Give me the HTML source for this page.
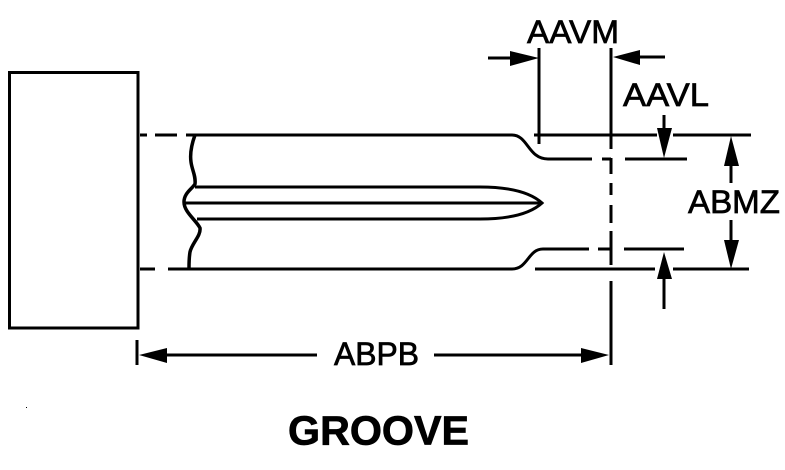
<!DOCTYPE html>
<html>
<head>
<meta charset="utf-8">
<style>
html,body{margin:0;padding:0;background:#fff;}
svg{display:block;}
text{font-family:"Liberation Sans",Arial,sans-serif;fill:#000;stroke:#000;stroke-width:.7px;}
</style>
</head>
<body>
<svg width="785" height="470" viewBox="0 0 785 470" xmlns="http://www.w3.org/2000/svg">
<rect width="785" height="470" fill="#fff"/>
<g fill="none" stroke="#000" stroke-width="3">
  <rect x="9.5" y="72.5" width="128.5" height="255.5"/>
  <!-- top outline -->
  <path d="M140 135H147M155 135H177M186 135H512C528 135 528 159 548 159H592M602 159H611M625 159H687"/>
  <path d="M534 135H657M673 135H751"/>
  <!-- bottom outline -->
  <path d="M140 269H155M168 269H512C528 269 528 249 543 249H589M598 249H611M624 249H684"/>
  <path d="M535 269H655M673 269H749"/>
  <!-- groove -->
  <path d="M195 187H480C510 187 530 192 542 203C530 214 510 219 480 219H197"/>
  <path d="M184 203H542"/>
  <!-- break line -->
  <path stroke-width="3.5" d="M195 135C191 146 190 155 191 162C192 170 196 176 195 184C192 189 184 193 184 202C184 212 196 220 200 228C201 236 192 243 190 252C189 258 189 263 189 268"/>
  <!-- extension lines -->
  <path d="M539 48V144"/>
  <path d="M611 48V149M611 158V174M611 183V195M611 205V223M611 231V265M611 281V365"/>
  <path d="M137 340V365"/>
  <!-- arrow shafts -->
  <path d="M488 58H512M640 57H665"/>
  <path d="M664 115V132M664 279V309"/>
  <path d="M731 166V183M731 220V240"/>
  <path d="M165 355H317M434 355H583"/>
</g>
<g fill="#000">
  <polygon points="510,51 510,66 539,58"/>
  <polygon points="640,50 640,65 613,57"/>
  <polygon points="657,128 672,128 664,158"/>
  <polygon points="657,279 672,279 664,252"/>
  <polygon points="724,166 739,166 731,136"/>
  <polygon points="724,240 739,240 731,269"/>
  <polygon points="139,355 167,348 167,363"/>
  <polygon points="609,355 581,348 581,363"/>
  <rect x="26" y="407" width="1" height="1"/>
</g>
<text x="527" y="43" font-size="32" textLength="92" lengthAdjust="spacingAndGlyphs">AAVM</text>
<text x="623" y="106" font-size="32" textLength="86" lengthAdjust="spacingAndGlyphs">AAVL</text>
<text x="688" y="213" font-size="32" textLength="92" lengthAdjust="spacingAndGlyphs">ABMZ</text>
<text x="334" y="365" font-size="32" textLength="85" lengthAdjust="spacingAndGlyphs">ABPB</text>
<text x="288" y="444.5" font-size="41" font-weight="bold" textLength="181" lengthAdjust="spacingAndGlyphs">GROOVE</text>
</svg>
</body>
</html>
